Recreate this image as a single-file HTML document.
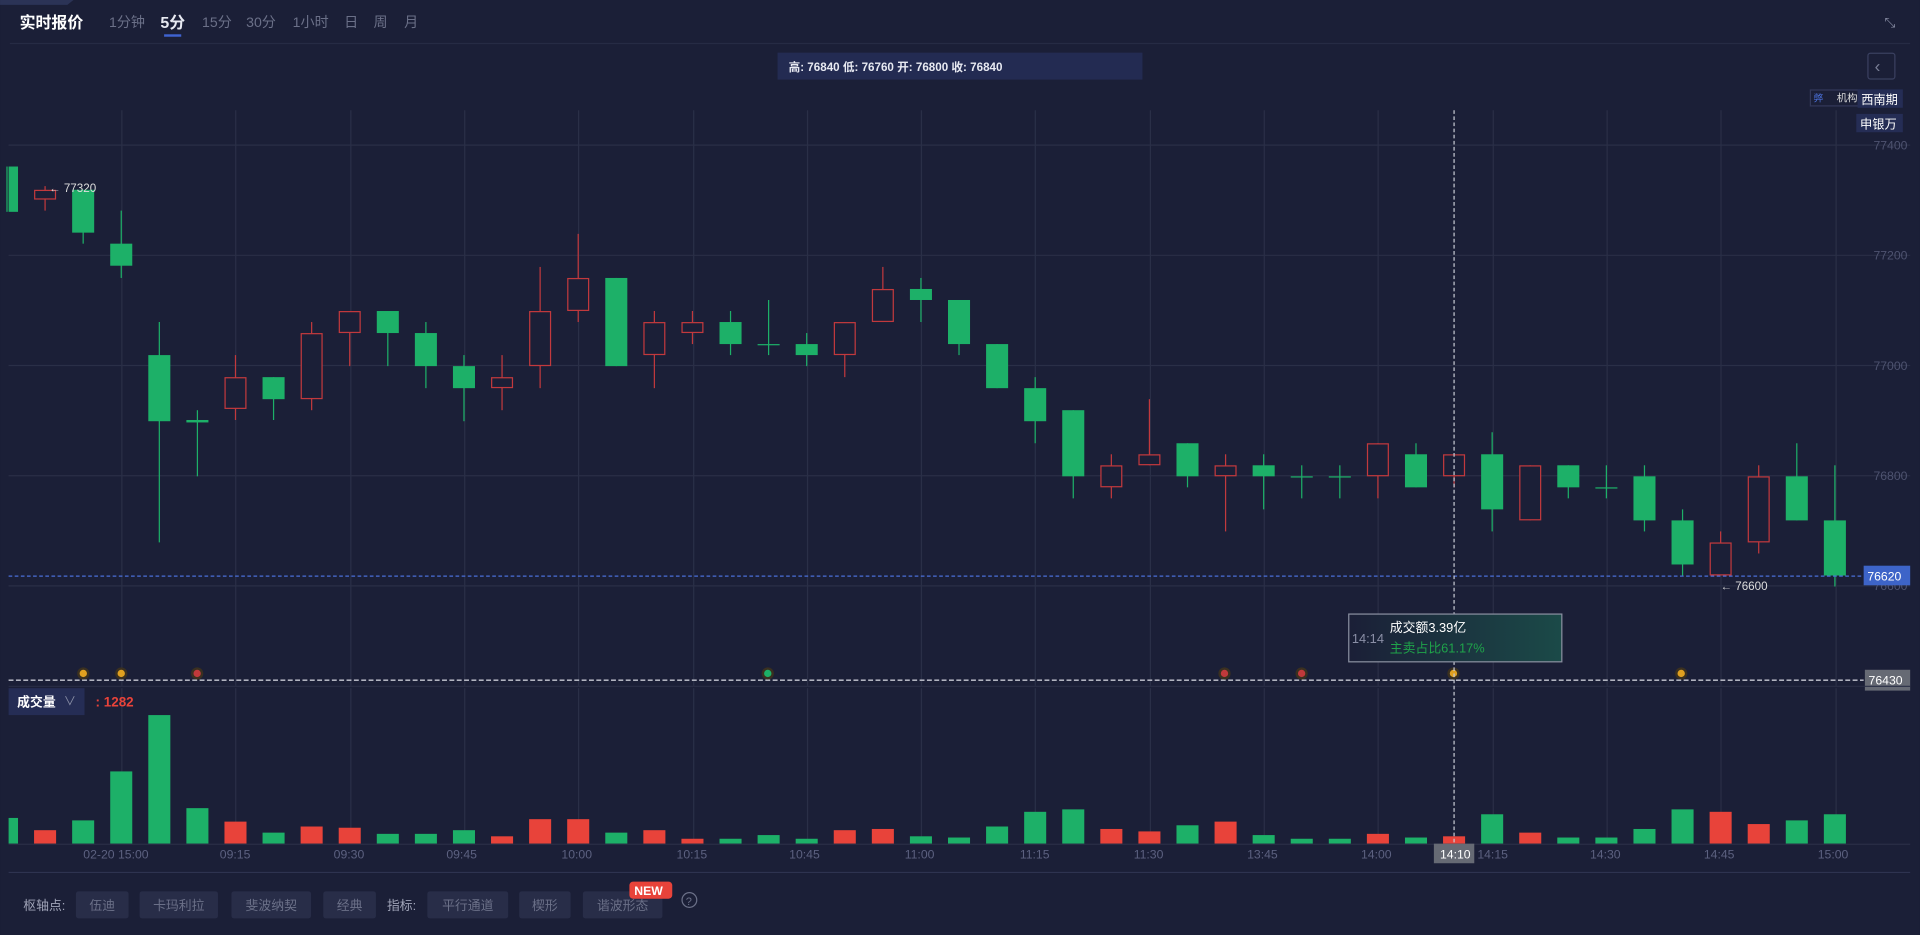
<!DOCTYPE html>
<html><head><meta charset="utf-8"><style>
html,body{margin:0;padding:0;background:#1b1f37;overflow:hidden}
svg{display:block}
text{font-family:"Liberation Sans","Noto Sans CJK SC",sans-serif}
</style></head><body>
<svg id="s" width="1920" height="935" viewBox="0 0 1568 763.6" xmlns="http://www.w3.org/2000/svg">
<rect width="1568" height="764" fill="#1b1f37"/>
<polygon points="0,0 60,0 55,4 0,4" fill="#2b3356"/>
<text x="16" y="23" fill="#fff" font-size="13" font-weight="bold">实时报价</text>
<g fill="#6b7088" font-size="11.5">
<text x="89" y="22">1分钟</text><text x="165" y="22">15分</text><text x="201" y="22">30分</text><text x="239" y="22">1小时</text><text x="281" y="22">日</text><text x="305" y="22">周</text><text x="330" y="22">月</text></g>
<text x="131" y="23" fill="#e8eaf2" font-size="13" font-weight="bold">5分</text>
<rect x="134" y="28" width="14" height="2" fill="#3f63d0"/>
<line x1="8" y1="35.5" x2="1560" y2="35.5" stroke="#262b44"/>
<text x="1539" y="22" fill="#8a8fa6" font-size="11">⤡</text>
<rect x="635" y="43" width="298" height="22" fill="#232b52"/>
<text x="644" y="58" fill="#e8eaf2" font-size="9.5" font-weight="bold">高: 76840 低: 76760 开: 76800 收: 76840</text>
<rect x="1525.5" y="43.5" width="22" height="21" fill="none" stroke="#3a4060" rx="2"/>
<text x="1531" y="59" fill="#7a7f96" font-size="14">‹</text>
<g id="grid" stroke="#2a2f47" stroke-width="1"></g>
<g id="c"></g>
<rect x="1478.5" y="73.5" width="40" height="13" fill="none" stroke="#33395a"/>
<text x="1481" y="83" fill="#4a6fd8" font-size="8">㢢</text>
<text x="1500" y="83" fill="#ddd" font-size="8.5">机构</text>
<rect x="1517" y="73" width="37" height="15" fill="#252d55"/>
<text x="1520" y="85" fill="#fff" font-size="10">西南期</text>
<rect x="1516" y="93" width="38" height="15" fill="#252d55"/>
<text x="1519" y="105" fill="#fff" font-size="10">申银万</text>
<g fill="#4e5370" font-size="10"><text x="1530" y="122">77400</text><text x="1530" y="212">77200</text><text x="1530" y="302">77000</text><text x="1530" y="392">76800</text><text x="1530" y="482">76600</text></g>
<text x="40" y="157" fill="#ddd" font-size="9.5">← 77320</text>
<text x="1405" y="482" fill="#ddd" font-size="9.5">← 76600</text>
<line x1="7" y1="470.5" x2="1522" y2="470.5" stroke="#4a6fd8" stroke-dasharray="3,2"/>
<rect x="1522" y="462" width="38" height="16" fill="#3d64c8"/>
<text x="1525" y="474" fill="#fff" font-size="10">76620</text>
<line x1="7" y1="555.5" x2="1522" y2="555.5" stroke="#c8cad4" stroke-dasharray="4,2" stroke-width="1.2"/>
<rect x="1523" y="547" width="37" height="17" fill="#666a74"/>
<text x="1526" y="559" fill="#fff" font-size="10">76430</text>
<line x1="7" y1="560.5" x2="1560" y2="560.5" stroke="#2a2f47"/>
<g id="mk"></g>
<line x1="1187.5" y1="90" x2="1187.5" y2="705" stroke="#c8cad4" stroke-dasharray="3,2"/>
<defs><linearGradient id="tg" x1="0" x2="1"><stop offset="0" stop-color="#1b1f37"/><stop offset="1" stop-color="#1b4a48"/></linearGradient></defs>
<rect x="1101.5" y="501.5" width="174" height="39" fill="url(#tg)" stroke="#8a8fa0"/>
<text x="1104" y="525" fill="#8a8fa6" font-size="10.5">14:14</text>
<text x="1135" y="516" fill="#fff" font-size="10.5">成交额3.39亿</text>
<text x="1135" y="533" fill="#1fa34a" font-size="10.5">主卖占比61.17%</text>
<rect x="7" y="562" width="62" height="22" fill="#252d55"/>
<text x="14" y="577" fill="#fff" font-size="10.5" font-weight="bold">成交量</text>
<text x="52" y="576" fill="#8a8fa6" font-size="10">∨</text>
<text x="78" y="577" fill="#e8433a" font-size="11" font-weight="bold">: 1282</text>
<line x1="7" y1="689.5" x2="1560" y2="689.5" stroke="#2a2f47"/>
<g id="tl" fill="#5c6180" font-size="10"></g>
<rect x="1171" y="689" width="33" height="16" fill="#666a74"/>
<text x="1176" y="701" fill="#fff" font-size="10">14:10</text>
<line x1="7" y1="712.5" x2="1560" y2="712.5" stroke="#2e3350"/>
<text x="19" y="743" fill="#a0a4b8" font-size="10.5">枢轴点:</text>
<g id="btn"></g>
<text x="316" y="743" fill="#a0a4b8" font-size="10.5">指标:</text>
<rect x="514" y="720" width="35" height="14" rx="3" fill="#e8433a"/>
<text x="518" y="731" fill="#fff" font-size="10" font-weight="bold">NEW</text>
<circle cx="563" cy="735" r="6" fill="none" stroke="#6b7088"/>
<text x="560" y="739" fill="#6b7088" font-size="9">?</text>
</svg>
<script>
var NS="http://www.w3.org/2000/svg";
function el(p,t,a,txt){var e=document.createElementNS(NS,t);for(var k in a)e.setAttribute(k,a[k]);if(txt)e.textContent=txt;document.getElementById(p).appendChild(e);return e;}
// grid
[118,208,298,388,478].forEach(function(y){el('grid','line',{x1:7,x2:1560,y1:y+.5,y2:y+.5});});
for(var i=0;i<16;i++){var x=Math.round(99+93.3*i)+.5;el('grid','line',{x1:x,x2:x,y1:90,y2:560});el('grid','line',{x1:x,x2:x,y1:562,y2:689});}
var G="#1db068",R="#c2393d";
var d=[["g",136,173,136,173],["r",155,163,152,172],["g",155,190,155,199],["g",199,217,172,227],["g",290,344,263,443],["g",343,345,335,389],["r",308,334,290,343],["g",308,326,308,343],["r",272,326,263,335],["r",254,272,254,299],["g",254,272,254,299],["g",272,299,263,317],["g",299,317,290,344],["r",308,317,290,335],["r",254,299,218,317],["r",227,254,191,263],["g",227,299,227,299],["r",263,290,254,317],["r",263,272,254,281],["g",263,281,254,290],["g",281,282,245,290],["g",281,290,272,299],["r",263,290,263,308],["r",236,263,218,263],["g",236,245,227,263],["g",245,281,245,290],["g",281,317,281,317],["g",317,344,308,362],["g",335,389,335,407],["r",380,398,371,407],["r",371,380,326,380],["g",362,389,362,398],["r",380,389,371,434],["g",380,389,371,416],["g",389,390,380,407],["g",389,390,380,407],["r",362,389,362,407],["g",371,398,362,398],["r",371,389,371,398],["g",371,416,353,434],["r",380,425,380,425],["g",380,398,380,407],["g",398,399,380,407],["g",389,425,380,434],["g",425,461,416,470],["r",443,470,434,470],["r",389,443,380,452],["g",389,425,362,425],["g",425,470,380,479]];
var v=[["g",668],["r",678],["g",670],["g",630],["g",584],["g",660],["r",671],["g",680],["r",675],["r",676],["g",681],["g",681],["g",678],["r",683],["r",669],["r",669],["g",680],["r",678],["r",685],["g",685],["g",682],["g",685],["r",678],["r",677],["g",683],["g",684],["g",675],["g",663],["g",661],["r",677],["r",679],["g",674],["r",671],["g",682],["g",685],["g",685],["r",681],["g",684],["r",683],["g",665],["r",680],["g",684],["g",684],["g",677],["g",661],["r",663],["r",673],["g",670],["g",665]];
d.forEach(function(c,i){var x=5.7+31.1*i;var col=c[0]=="g"?G:R;var l=Math.max(7,x-9),r=x+9;
 el('c','line',{x1:x,x2:x,y1:c[3],y2:c[4],stroke:col});
 if(c[0]=="g")el('c','rect',{x:l,y:c[1],width:r-l,height:Math.max(1,c[2]-c[1]),fill:col});
 else el('c','rect',{x:l+.5,y:c[1]+.5,width:r-l-1,height:c[2]-c[1]-1,fill:"#1b1f37",stroke:col});
 var vv=v[i];el('c','rect',{x:l,y:vv[1],width:r-l,height:689-vv[1],fill:vv[0]=="g"?G:"#e8433a"});});
var ticks=[[68,"02-20 15:00"],[192,"09:15"],[285,"09:30"],[377,"09:45"],[471,"10:00"],[565,"10:15"],[657,"10:45"],[751,"11:00"],[845,"11:15"],[938,"11:30"],[1031,"13:45"],[1124,"14:00"],[1219,"14:15"],[1311,"14:30"],[1404,"14:45"],[1497,"15:00"]];
ticks.forEach(function(t){el('tl','text',{x:t[0]+(t[1].length>5?0:0),y:701,"text-anchor":t[1].length>5?"start":"middle"},t[1]);});
[[68,"#e0a020"],[99,"#e0a020"],[161,"#c0393b"],[627,"#1db068"],[1000,"#c0393b"],[1063,"#c0393b"],[1187,"#e0a020"],[1373,"#e0a020"]].forEach(function(m){el('mk','circle',{cx:m[0],cy:550,r:5,fill:"#3a3020"});el('mk','circle',{cx:m[0],cy:550,r:3,fill:m[1]});});
var b=[[62,105,"伍迪"],[114,178,"卡玛利拉"],[189,254,"斐波纳契"],[264,307,"经典"],[349,415,"平行通道"],[424,466,"楔形"],[476,541,"谐波形态"]];
b.forEach(function(q){el('btn','rect',{x:q[0],y:728,width:q[1]-q[0],height:22,fill:"#282d48",rx:2});el('btn','text',{x:(q[0]+q[1])/2,y:743,fill:"#6b7088","font-size":10.5,"text-anchor":"middle"},q[2]);});
</script>
</body></html>
